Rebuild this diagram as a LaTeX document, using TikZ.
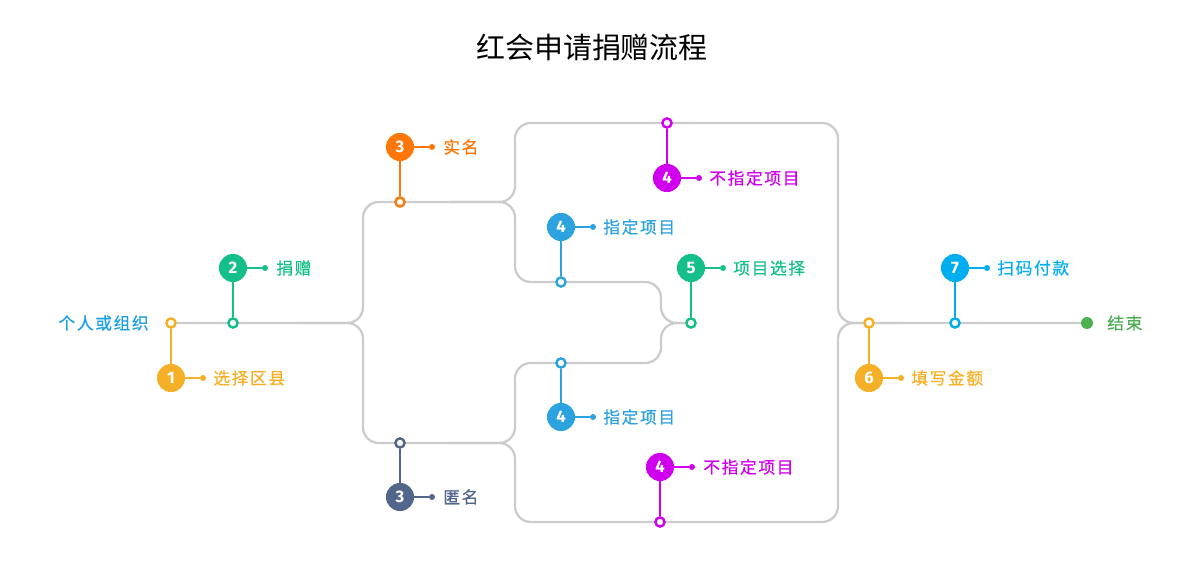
\documentclass[tikz,border=0pt]{standalone}
\usepackage{fontspec}
\setmainfont{Noto Sans CJK SC}
\newfontfamily\lblfont{Noto Sans CJK SC}[LetterSpace=10, FakeBold=0.6]
\newfontfamily\numfont{Fira Sans}
\usetikzlibrary{backgrounds}
\definecolor{cyell}{HTML}{F5B027}
\definecolor{cgrn}{HTML}{14BF8A}
\definecolor{corng}{HTML}{FF7709}
\definecolor{cslate}{HTML}{52658A}
\definecolor{cmag}{HTML}{D000EE}
\definecolor{cblu}{HTML}{2CA3DF}
\definecolor{cblutwo}{HTML}{00AEEF}
\definecolor{cend}{HTML}{4CAF50}
\definecolor{cstart}{HTML}{1BA1E2}
\definecolor{ctrack}{HTML}{CCCCCC}
\begin{document}
\begin{tikzpicture}[x=0.02cm, y=-0.02cm,
    track/.style={draw=ctrack, line width=1.3pt, rounded corners=9pt},
    numdot/.style={circle, fill=#1, text=white, inner sep=0pt, minimum size=16pt, font=\numfont\bfseries\fontsize{9.5}{10}\selectfont},
    ring/.style={circle, draw=#1, fill=white, line width=1.4pt, inner sep=0pt, minimum size=5.2pt},
    tip/.style={circle, fill=#1, inner sep=0pt, minimum size=3.4pt},
    stem/.style={draw=#1, line width=1.2pt},
    lbl/.style={text=#1, anchor=west, inner sep=0pt, font=\lblfont\fontsize{9.5}{10}\selectfont}]
        \useasboundingbox (0,0) rectangle (1200,580);
        \node[font=\fontsize{16.5}{18}\selectfont] (title) at (592,47) {红会申请捐赠流程};

        % open rings on the tracks
        \node[ring=cyell] (o1) at (171,323) {};
        \node[ring=cgrn] (o2) at (233,323) {};
        \node[ring=corng] (o3a) at (400,202) {};
        \node[ring=cslate] (o3b) at (400,443) {};
        \node[ring=cmag] (o4a) at (667,123) {};
        \node[ring=cblu] (o4b) at (561,282) {};
        \node[ring=cblu] (o4c) at (561,363) {};
        \node[ring=cmag] (o4d) at (660,522) {};
        \node[ring=cgrn] (o5) at (691,323) {};
        \node[ring=cyell] (o6) at (869,323) {};
        \node[ring=cblutwo] (o7) at (955,323) {};
        \node[circle, fill=cend, inner sep=0pt, minimum size=6.8pt] (fin) at (1087,323) {};

        % tracks
        \begin{scope}[on background layer]
        \draw[track] (o1.center) -- (363,323) -- (363,202) -- (515,202) -- (515,123) -- (838,123) -- (838,323) -- (fin.center);
        \draw[track] (300,323) -- (363,323) -- (363,443) -- (515,443) -- (515,522) -- (838,522) -- (838,323) -- (900,323);
        \draw[track] (450,202) -- (515,202) -- (515,282) -- (661,282) -- (661,323) -- (o5.center);
        \draw[track] (450,443) -- (515,443) -- (515,363) -- (661,363) -- (661,323) -- (o5.center);
        \end{scope}

        % numbered steps
        \node[numdot=cyell] (n1) at (171,378) {1};
        \node[numdot=cgrn] (n2) at (233,268) {2};
        \node[numdot=corng] (n3a) at (400,147) {3};
        \node[numdot=cslate] (n3b) at (400,497) {3};
        \node[numdot=cmag] (n4a) at (667,178) {4};
        \node[numdot=cblu] (n4b) at (561,227) {4};
        \node[numdot=cblu] (n4c) at (561,417) {4};
        \node[numdot=cmag] (n4d) at (660,467) {4};
        \node[numdot=cgrn] (n5) at (691,268) {5};
        \node[numdot=cyell] (n6) at (869,378) {6};
        \node[numdot=cblutwo] (n7) at (955,268) {7};

        \node[tip=cyell] (t1) at (203,378) {};
        \node[tip=cgrn] (t2) at (265,268) {};
        \node[tip=corng] (t3a) at (432,147) {};
        \node[tip=cslate] (t3b) at (432,497) {};
        \node[tip=cmag] (t4a) at (699,178) {};
        \node[tip=cblu] (t4b) at (593,227) {};
        \node[tip=cblu] (t4c) at (593,417) {};
        \node[tip=cmag] (t4d) at (692,467) {};
        \node[tip=cgrn] (t5) at (723,268) {};
        \node[tip=cyell] (t6) at (901,378) {};
        \node[tip=cblutwo] (t7) at (987,268) {};

        \draw[stem=cyell] (o1) -- (n1);  \draw[stem=cyell] (n1) -- (t1);
        \draw[stem=cgrn] (o2) -- (n2);   \draw[stem=cgrn] (n2) -- (t2);
        \draw[stem=corng] (o3a) -- (n3a); \draw[stem=corng] (n3a) -- (t3a);
        \draw[stem=cslate] (o3b) -- (n3b); \draw[stem=cslate] (n3b) -- (t3b);
        \draw[stem=cmag] (o4a) -- (n4a); \draw[stem=cmag] (n4a) -- (t4a);
        \draw[stem=cblu] (o4b) -- (n4b); \draw[stem=cblu] (n4b) -- (t4b);
        \draw[stem=cblu] (o4c) -- (n4c); \draw[stem=cblu] (n4c) -- (t4c);
        \draw[stem=cmag] (o4d) -- (n4d); \draw[stem=cmag] (n4d) -- (t4d);
        \draw[stem=cgrn] (o5) -- (n5);   \draw[stem=cgrn] (n5) -- (t5);
        \draw[stem=cyell] (o6) -- (n6);  \draw[stem=cyell] (n6) -- (t6);
        \draw[stem=cblutwo] (o7) -- (n7); \draw[stem=cblutwo] (n7) -- (t7);

        % labels
        \node[lbl=cstart, anchor=east] (lstart) at (149,323) {个人或组织};
        \node[lbl=cyell] (l1) at (213,378) {选择区县};
        \node[lbl=cgrn] (l2) at (276,268) {捐赠};
        \node[lbl=corng] (l3a) at (443,147) {实名};
        \node[lbl=cslate] (l3b) at (443,497) {匿名};
        \node[lbl=cmag] (l4a) at (709,178) {不指定项目};
        \node[lbl=cblu] (l4b) at (603,227) {指定项目};
        \node[lbl=cblu] (l4c) at (603,417) {指定项目};
        \node[lbl=cmag] (l4d) at (703,467) {不指定项目};
        \node[lbl=cgrn] (l5) at (733,268) {项目选择};
        \node[lbl=cyell] (l6) at (911,378) {填写金额};
        \node[lbl=cblutwo] (l7) at (997,268) {扫码付款};
        \node[lbl=cend] (lfin) at (1107,323) {结束};
\end{tikzpicture}
\end{document}
